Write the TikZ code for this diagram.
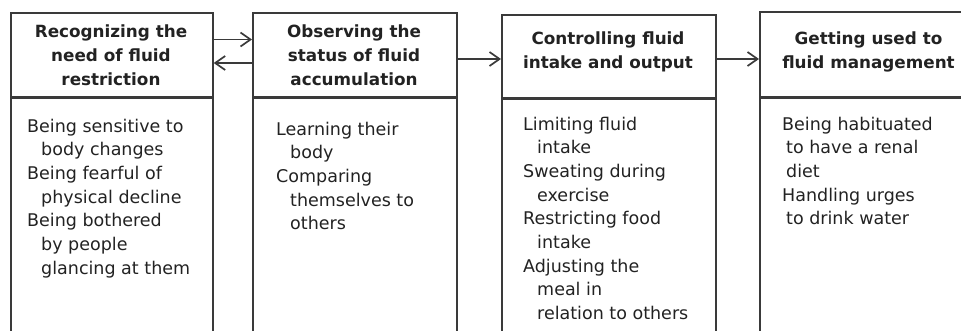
\documentclass[tikz,border=0pt]{standalone}
\usepackage{fontspec}
\setmainfont{DejaVu Sans}
\usetikzlibrary{arrows.meta}
\definecolor{ln}{HTML}{3A3A3A}
\definecolor{tx}{HTML}{222222}
\tikzset{
  boxline/.style={draw=ln, line width=1.7pt, inner sep=0pt, anchor=north west},
  hdr/.style={boxline, minimum height=84pt},
  bod/.style={boxline, minimum height=260pt},
  ttl/.style={text=tx, align=center, inner sep=0pt, anchor=base,
    font={\fontsize{16.8}{24}\selectfont\bfseries}},
  itm/.style={text=tx, align=left, inner sep=0pt, anchor=base west,
    font={\fontsize{17.5}{23.7}\selectfont}},
  arr/.style={draw=ln, line width=1.7pt, -{Straight Barb[length=10pt,width=14pt]}},
}
\newcommand{\ind}{\hspace*{14pt}}
\begin{document}
\begin{tikzpicture}[x=1pt,y=-1pt]
\useasboundingbox (0,0) rectangle (961,330);
\clip (0,0) rectangle (961,330);
% boxes
\node[hdr, minimum width=202pt] (h1) at (10,12) {};
\node[bod, minimum width=202pt] (b1) at (h1.south west) {};
\node[hdr, minimum width=204pt] (h2) at (252,12) {};
\node[bod, minimum width=204pt] (b2) at (h2.south west) {};
\node[hdr, minimum width=214pt, minimum height=83pt] (h3) at (501,14) {};
\node[bod, minimum width=214pt] (b3) at (h3.south west) {};
\node[hdr, minimum width=220pt, minimum height=85pt] (h4) at (759,11) {};
\node[bod, minimum width=220pt] (b4) at (h4.south west) {};
% titles (anchor = baseline of last line)
\node[ttl] (t1) at (111,85) {Recognizing the\\need of fluid\\restriction};
\node[ttl] (t2) at (354,85) {Observing the\\status of fluid\\accumulation};
\node[ttl] (t3) at (608,68) {Controlling fluid\\intake and output};
\node[ttl] (t4) at (868.5,68) {Getting used to\\fluid management};
% items (anchor = baseline of last line)
\node[itm] (i1) at (27,274.2) {Being sensitive to\\\ind body changes\\Being fearful of\\\ind physical decline\\Being bothered\\\ind by people\\\ind glancing at them};
\node[itm] (i2) at (276,229.8) {Learning their\\\ind body\\Comparing\\\ind themselves to\\\ind others};
\node[itm] (i3) at (523,319.6) {Limiting fluid\\\ind intake\\Sweating during\\\ind exercise\\Restricting food\\\ind intake\\Adjusting the\\\ind meal in\\\ind relation to others};
\node[itm] (i4) at (782,224.8) {Being habituated\\\hspace*{4pt}to have a renal\\\hspace*{4pt}diet\\Handling urges\\\hspace*{4pt}to drink water};
% arrows
\draw[arr] (h1.east |- 0,39.5) -- (h2.west |- 0,39.5);
\draw[arr] (h2.west |- 0,63) -- (h1.east |- 0,63);
\draw[arr] (h2.east |- 0,59) -- (h3.west |- 0,59);
\draw[arr] (h3.east |- 0,59) -- (h4.west |- 0,59);
\end{tikzpicture}
\end{document}
